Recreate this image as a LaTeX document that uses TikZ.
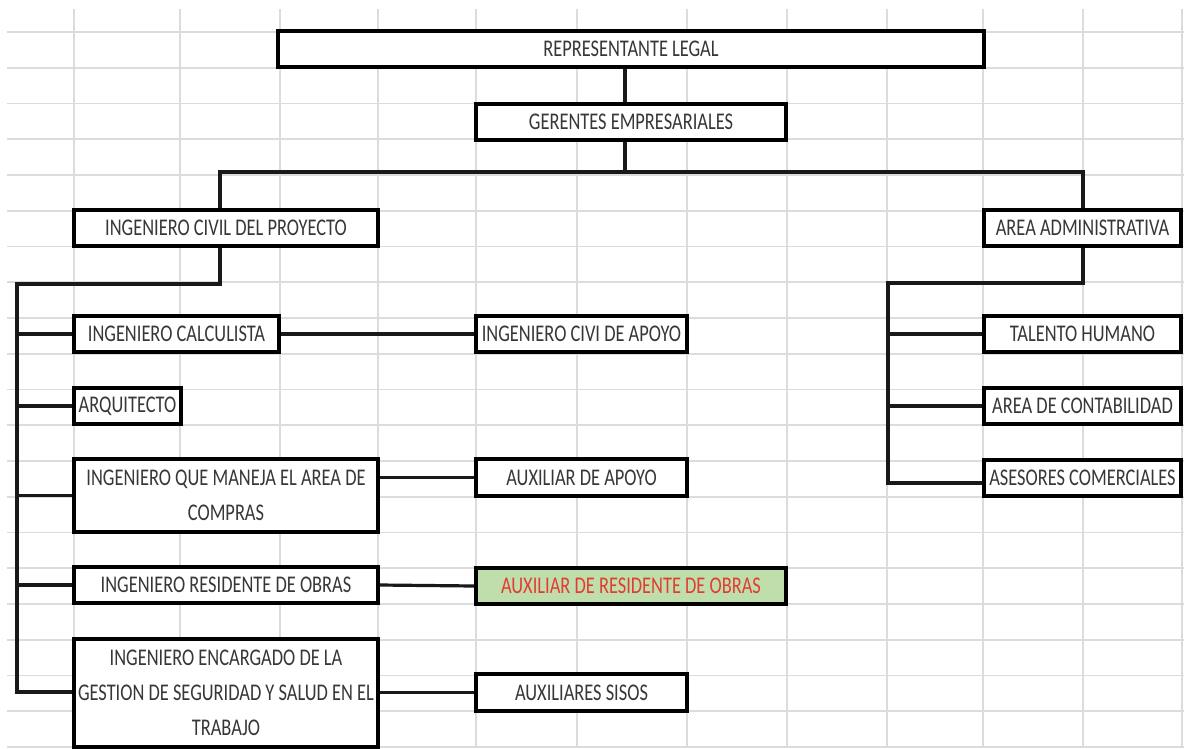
\documentclass[tikz,border=0pt]{standalone}
\usepackage{fontspec}
\setmainfont{Carlito}
\usepackage{graphicx}
\newcommand{\sq}[1]{\scalebox{1}[1.3]{#1}}
\definecolor{gridc}{RGB}{220,220,220}
\definecolor{greenfill}{RGB}{192,222,172}
\definecolor{redtext}{RGB}{226,60,50}
\definecolor{txt}{RGB}{55,55,55}
\tikzset{
  gridline/.style={draw=gridc, line width=1.8pt},
  box/.style={draw=black, line width=3.2pt, fill=white, inner sep=0pt,
    text=txt, font=\fontsize{18.4}{35}\selectfont, align=center},
  conn/.style={draw=black!90, line width=3.2pt, line join=miter}
}
\begin{document}
\begin{tikzpicture}[x=1pt,y=-1pt]
\useasboundingbox (0,0) rectangle (1184,748);
\fill[white] (0,0) rectangle (1184,748);
% spreadsheet grid
\foreach \k in {0,...,20} \draw[gridline] (7,{32+35.75*\k}) -- (1184,{32+35.75*\k});
\foreach \x in {74,180,280,378,476,577,687,787,887,983,1083,1182} \draw[gridline] (\x,9) -- (\x,748);

% boxes
\node[box, minimum width=706pt, minimum height=36pt] (rep) at (631,49) {\sq{REPRESENTANTE LEGAL}};
\node[box, minimum width=310pt, minimum height=36pt] (ger) at (631,122) {\sq{GERENTES EMPRESARIALES}};
\node[box, minimum width=304pt, minimum height=36pt] (icp) at (226,228) {\sq{INGENIERO CIVIL DEL PROYECTO}};
\node[box, minimum width=197pt, minimum height=36pt] (aa) at (1082.5,228) {\sq{AREA ADMINISTRATIVA}};
\node[box, minimum width=205pt, minimum height=36pt] (calc) at (176.5,334) {\sq{INGENIERO CALCULISTA}};
\node[box, minimum width=211pt, minimum height=36pt] (icda) at (581.5,334) {\sq{INGENIERO CIVI DE APOYO}};
\node[box, minimum width=107pt, minimum height=36pt] (arq) at (127.5,406) {\sq{ARQUITECTO}};
\node[box, minimum width=304pt, minimum height=73pt] (compras) at (226,495.5) {\sq{INGENIERO QUE MANEJA EL AREA DE}\\\sq{COMPRAS}};
\node[box, minimum width=211pt, minimum height=37pt] (auxap) at (581.5,477.5) {\sq{AUXILIAR DE APOYO}};
\node[box, minimum width=304pt, minimum height=36pt] (res) at (226,585) {\sq{INGENIERO RESIDENTE DE OBRAS}};
\node[box, minimum width=310pt, minimum height=36pt, fill=greenfill, text=redtext] (auxres) at (631,586) {\sq{AUXILIAR DE RESIDENTE DE OBRAS}};
\node[box, minimum width=304pt, minimum height=108pt] (enc) at (226,693) {\sq{INGENIERO ENCARGADO DE LA}\\\sq{GESTION DE SEGURIDAD Y SALUD EN EL}\\\sq{TRABAJO}};
\node[box, minimum width=211pt, minimum height=37pt] (sisos) at (581.5,692.5) {\sq{AUXILIARES SISOS}};
\node[box, minimum width=197pt, minimum height=36pt] (tal) at (1082.5,334) {\sq{TALENTO HUMANO}};
\node[box, minimum width=197pt, minimum height=36pt] (cont) at (1082.5,406) {\sq{AREA DE CONTABILIDAD}};
\node[box, minimum width=197pt, minimum height=36pt] (ases) at (1082.5,478) {\sq{ASESORES COMERCIALES}};

% connectors
\coordinate (b1) at (625,172);
\coordinate (bl) at (220,172);
\coordinate (br) at (1083,172);
\draw[conn] (rep.south -| b1) -- (ger.north -| b1);
\draw[conn] (ger.south -| b1) -- (b1);
\draw[conn] (icp.north -| bl) -- (bl) -- (br) -- (aa.north -| br);

\coordinate (lb0) at (220,284);
\coordinate (lb1) at (17,284);
\coordinate (lb2) at (17,692);
\draw[conn] (icp.south -| lb0) -- (lb0) -- (lb1) -- (lb2) -- (enc.west |- lb2);
\draw[conn] (calc.west) -- (calc.west -| lb1);
\draw[conn] (arq.west) -- (arq.west -| lb1);
\draw[conn] (compras.west) -- (compras.west -| lb1);
\draw[conn] (res.west) -- (res.west -| lb1);

\coordinate (rb0) at (1083,283);
\coordinate (rb1) at (888,283);
\coordinate (rb2) at (888,483);
\draw[conn] (aa.south -| rb0) -- (rb0) -- (rb1) -- (rb2) -- (ases.west |- rb2);
\draw[conn] (tal.west) -- (tal.west -| rb1);
\draw[conn] (cont.west) -- (cont.west -| rb1);

\draw[conn] (calc.east) -- (icda.west);
\draw[conn] (compras.east |- auxap.west) -- (auxap.west);
\draw[conn] (res.east) -- (auxres.west);
\draw[conn] (enc.east |- sisos.west) -- (sisos.west);
\end{tikzpicture}
\end{document}
